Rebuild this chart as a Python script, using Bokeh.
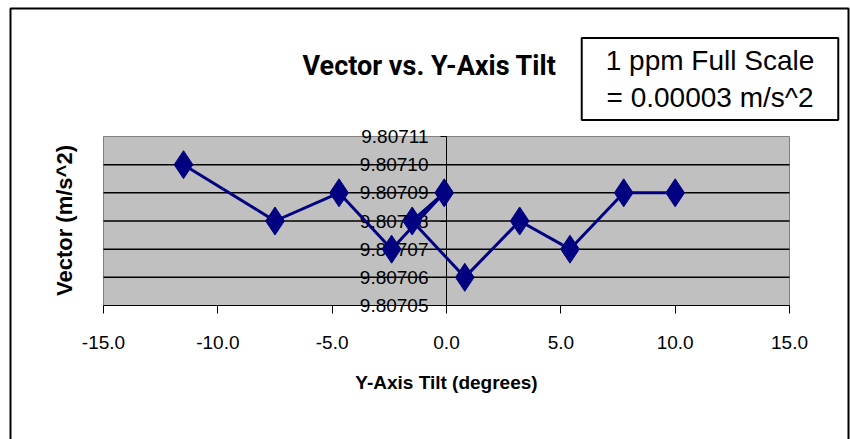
import math
from bokeh.plotting import figure
from bokeh.models import (Range1d, LinearAxis, FixedTicker, PrintfTickFormatter,
                          Label, BoxAnnotation)
from bokeh.embed import file_html
from bokeh.resources import INLINE

# ---- data ----
tilt_deg = [-11.5, -7.5, -4.7, -2.4, -0.1, -1.5, 0.8, 3.2, 5.4, 7.75, 10.0]
vector = [9.80710, 9.80708, 9.80709, 9.80707, 9.80709, 9.80708, 9.80706,
          9.80708, 9.80707, 9.80709, 9.80709]
x_ticks = [-15.0, -10.0, -5.0, 0.0, 5.0, 10.0, 15.0]
y_ticks = [9.80705, 9.80706, 9.80707, 9.80708, 9.80709, 9.80710, 9.80711]
y_grid = [9.80706, 9.80707, 9.80708, 9.80709, 9.80710]
title_text = "Vector vs. Y-Axis Tilt"
x_title = "Y-Axis Tilt (degrees)"
y_title = "Vector (m/s^2)"
note_text = "1 ppm Full Scale\n= 0.00003 m/s^2"

FONT = "Liberation Sans"
W, H = 850, 439

# pixel box of the grey plot area inside the chart (layout only)
PA_L, PA_R, PA_T, PA_B = 103, 789, 136, 305
X0, X1 = x_ticks[0], x_ticks[-1]
Y0, Y1 = y_ticks[0], y_ticks[-1]


def dx(px):
    return X0 + (px - PA_L) * (X1 - X0) / (PA_R - PA_L)


def dy(py):
    return Y1 - (py - PA_T) * (Y1 - Y0) / (PA_B - PA_T)


p = figure(width=W, height=H, output_backend="svg", toolbar_location=None,
           x_range=Range1d(dx(0), dx(W)),
           y_range=Range1d(dy(H), dy(0)),
           x_axis_location=None, y_axis_location=None,
           min_border_left=0, min_border_right=0,
           min_border_top=0, min_border_bottom=0)
p.title.visible = False
p.grid.visible = False
p.border_fill_color = "#FFFFFF"
p.background_fill_color = "#FFFFFF"
p.outline_line_color = None

# chart-area border (its bottom edge lies below the visible page)
p.add_layout(BoxAnnotation(left=dx(10), right=dx(848), top=dy(8), bottom=dy(470),
                           fill_alpha=0.0, line_color="#000000", line_alpha=1.0,
                           line_width=2, level="underlay"))

# grey plot area
p.add_layout(BoxAnnotation(left=X0, right=X1, bottom=Y0, top=Y1,
                           fill_color="#C0C0C0", fill_alpha=1.0,
                           line_color="#808080", line_alpha=1.0, line_width=1,
                           level="underlay"))

# horizontal gridlines
p.segment(x0=[X0] * len(y_grid), x1=[X1] * len(y_grid), y0=y_grid, y1=y_grid,
          line_color="#000000", line_width=1.5)

# x axis along the bottom of the plot area
xa = LinearAxis(fixed_location=Y0, bounds=(X0, X1),
                ticker=FixedTicker(ticks=x_ticks),
                formatter=PrintfTickFormatter(format="%.1f"))
xa.major_tick_out = 8
xa.major_tick_in = 0
xa.minor_tick_out = 0
xa.minor_tick_in = 0
xa.axis_line_color = "#000000"
xa.major_tick_line_color = "#000000"
xa.major_label_text_font = FONT
xa.major_label_text_font_size = "19px"
xa.major_label_text_color = "#000000"
xa.major_label_standoff = 22
xa.axis_label = x_title
xa.axis_label_text_font = FONT
xa.axis_label_text_font_style = "bold"
xa.axis_label_text_font_size = "19px"
xa.axis_label_text_color = "#000000"
xa.axis_label_standoff = 20
p.add_layout(xa, "below")

# y axis crossing at x = 0
ya = LinearAxis(fixed_location=0, bounds=(Y0, Y1),
                ticker=FixedTicker(ticks=y_ticks),
                formatter=PrintfTickFormatter(format="%.5f"))
ya.major_tick_out = 6
ya.major_tick_in = 0
ya.minor_tick_out = 0
ya.minor_tick_in = 0
ya.axis_line_color = "#000000"
ya.major_tick_line_color = "#000000"
ya.major_label_text_font = FONT
ya.major_label_text_font_size = "19px"
ya.major_label_text_color = "#000000"
ya.major_label_standoff = 12
p.add_layout(ya, "left")

# series
r1 = p.line(tilt_deg, vector, line_color="#000080", line_width=3)
r2 = p.scatter(tilt_deg, vector, marker="diamond", size=28,
               fill_color="#000080", line_color="#000080")
r1.level = "overlay"
r2.level = "overlay"

# chart title
p.add_layout(Label(x=dx(429), y=dy(65), text=title_text,
                   text_align="center", text_baseline="alphabetic",
                   text_font="Roboto", text_font_style="bold",
                   text_font_size="27px", text_color="#000000"))

# y-axis title
p.add_layout(Label(x=dx(64), y=dy(220), text=y_title, angle=math.pi / 2,
                   text_align="center", text_baseline="middle",
                   text_font=FONT, text_font_style="bold",
                   text_font_size="22px", text_color="#000000"))

# note box
p.add_layout(Label(x=dx(709.5), y=dy(78.5), text=note_text,
                   text_align="center", text_baseline="middle",
                   text_font=FONT, text_font_size="28px", text_color="#000000",
                   background_fill_color="#FFFFFF", background_fill_alpha=1.0,
                   border_line_color="#000000", border_line_width=2,
                   padding=dict(left=24, right=24, top=7, bottom=7)))

open("out.html", "w").write(file_html(p, INLINE))
